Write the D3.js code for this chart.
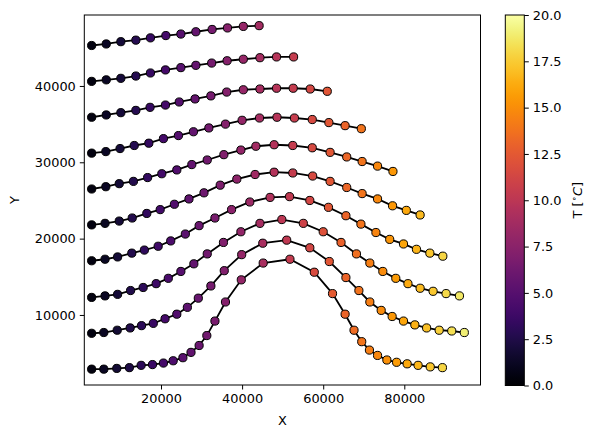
<!DOCTYPE html>
<html>
<head>
<meta charset="utf-8">
<script src="https://cdn.jsdelivr.net/npm/d3@7"></script>
<style>
  body { margin: 0; background: #fff; }
  text { font-family: "DejaVu Sans", sans-serif; font-size: 12.9px; fill: #000; }
</style>
</head>
<body>
<svg id="chart" width="596" height="438"></svg>
<script>
// trajectories, bottom (0) to top (9): x, y and temperature per point
var line0X = [2900, 5900, 9100, 12200, 15100, 17900, 20600, 23000, 25400, 27400, 29400, 31300, 33300, 35900, 39800, 45200, 51800, 57800, 62300, 65400, 67600, 69500, 71400, 73400, 75700, 78100, 80700, 83400, 86400, 89400];
var line0Y = [2900, 2900, 3000, 3100, 3400, 3500, 3700, 4000, 4400, 5100, 6000, 7300, 9200, 11700, 14600, 16800, 17300, 15600, 12800, 10100, 8000, 6500, 5400, 4700, 4100, 3800, 3600, 3400, 3200, 3100];
var line0T = [0.6, 1.2, 1.8, 2.4, 3.0, 3.6, 4.1, 4.6, 5.1, 5.5, 5.9, 6.3, 6.7, 7.2, 8.0, 9.0, 10.4, 11.6, 12.5, 13.1, 13.5, 13.9, 14.3, 14.7, 15.1, 15.6, 16.1, 16.7, 17.3, 17.9];

var line1X = [2900, 5900, 9200, 12400, 15200, 18100, 21000, 23900, 26500, 29200, 32300, 35600, 39900, 45100, 51000, 56700, 61500, 65600, 68800, 71500, 74300, 77000, 79800, 82600, 85500, 88600, 91700, 94800];
var line1Y = [7600, 7700, 8000, 8300, 8600, 8900, 9500, 10100, 11000, 12200, 13800, 15800, 17900, 19400, 19800, 18800, 17000, 14900, 13200, 11700, 10600, 9800, 9200, 8700, 8300, 8000, 7900, 7700];
var line1T = [0.6, 1.2, 1.8, 2.5, 3.0, 3.6, 4.2, 4.8, 5.3, 5.8, 6.5, 7.1, 8.0, 9.0, 10.2, 11.3, 12.3, 13.1, 13.8, 14.3, 14.9, 15.4, 16.0, 16.5, 17.1, 17.7, 18.3, 19.0];

var line2X = [2900, 6200, 9300, 12500, 15600, 18800, 21800, 24900, 28100, 31400, 35400, 39700, 44400, 49800, 55100, 60000, 64400, 68200, 71500, 74700, 77900, 80900, 83900, 87100, 90300, 93600];
var line2Y = [12300, 12500, 12700, 13200, 13600, 14100, 14800, 15700, 16700, 18000, 19500, 20900, 22000, 22500, 22000, 20900, 19500, 18000, 16800, 15700, 14800, 14100, 13500, 13100, 12800, 12500];
var line2T = [0.6, 1.2, 1.9, 2.5, 3.1, 3.8, 4.4, 5.0, 5.6, 6.3, 7.1, 7.9, 8.9, 10.0, 11.0, 12.0, 12.9, 13.6, 14.3, 14.9, 15.6, 16.2, 16.8, 17.4, 18.1, 18.7];

var line3X = [2900, 6200, 9300, 12800, 15900, 19300, 22400, 26000, 29400, 33300, 37400, 41900, 46900, 51700, 56700, 61300, 65600, 69300, 73000, 76400, 79800, 83000, 86300, 89500];
var line3Y = [17100, 17300, 17600, 18100, 18500, 19000, 19700, 20600, 21700, 22700, 23800, 24800, 25400, 25500, 25000, 24100, 23000, 21900, 20800, 19900, 19300, 18600, 18100, 17700];
var line3T = [0.6, 1.2, 1.9, 2.6, 3.2, 3.9, 4.5, 5.2, 5.9, 6.7, 7.5, 8.4, 9.4, 10.3, 11.3, 12.3, 13.1, 13.9, 14.6, 15.3, 16.0, 16.6, 17.3, 17.9];

var line4X = [2900, 6200, 9700, 12900, 16500, 19800, 23300, 26900, 30600, 34600, 38700, 43200, 47900, 52500, 57400, 61700, 65800, 69600, 73400, 77100, 80500, 83900];
var line4Y = [21800, 22000, 22300, 22700, 23300, 23800, 24500, 25200, 26000, 27000, 27800, 28400, 28700, 28600, 28200, 27500, 26700, 25900, 25200, 24300, 23700, 23100];
var line4T = [0.6, 1.2, 1.9, 2.6, 3.3, 4.0, 4.7, 5.4, 6.1, 6.9, 7.7, 8.6, 9.6, 10.5, 11.5, 12.3, 13.2, 13.9, 14.7, 15.4, 16.1, 16.8];

var line5X = [2900, 6400, 9700, 13200, 16700, 20200, 23900, 27600, 31400, 35500, 39700, 43400, 47900, 52500, 57300, 61700, 65800, 69600, 73400, 77200];
var line5Y = [26500, 26800, 27200, 27500, 28000, 28500, 29000, 29700, 30300, 31000, 31600, 32100, 32300, 32200, 31900, 31300, 30700, 30100, 29500, 28800];
var line5T = [0.6, 1.3, 1.9, 2.6, 3.3, 4.0, 4.8, 5.5, 6.3, 7.1, 7.9, 8.7, 9.6, 10.5, 11.5, 12.3, 13.2, 13.9, 14.7, 15.4];

var line6X = [2900, 6400, 9900, 13400, 17000, 20600, 24300, 28000, 31800, 35900, 40000, 44300, 48600, 52900, 57300, 61400, 65400, 69400];
var line6Y = [31200, 31400, 31800, 32200, 32500, 33100, 33500, 34000, 34500, 35000, 35500, 35800, 35900, 35800, 35600, 35200, 34800, 34400];
var line6T = [0.6, 1.3, 2.0, 2.7, 3.4, 4.1, 4.9, 5.6, 6.4, 7.2, 8.0, 8.9, 9.7, 10.6, 11.5, 12.3, 13.1, 13.9];

var line7X = [2900, 6500, 10100, 13800, 17300, 21100, 24500, 28400, 32300, 36200, 40300, 44400, 48500, 52600, 56800, 61000];
var line7Y = [35900, 36200, 36500, 36800, 37200, 37500, 37900, 38300, 38700, 39200, 39500, 39600, 39700, 39700, 39600, 39300];
var line7T = [0.6, 1.3, 2.0, 2.8, 3.5, 4.2, 4.9, 5.7, 6.5, 7.2, 8.1, 8.9, 9.7, 10.5, 11.4, 12.2];

var line8X = [2900, 6500, 10100, 13800, 17400, 21100, 24900, 28600, 32500, 36300, 40300, 44400, 48500, 52700];
var line8Y = [40600, 40800, 41000, 41300, 41700, 42100, 42400, 42700, 43000, 43300, 43500, 43700, 43800, 43800];
var line8T = [0.6, 1.3, 2.0, 2.8, 3.5, 4.2, 5.0, 5.7, 6.5, 7.3, 8.1, 8.9, 9.7, 10.5];

var line9X = [2900, 6500, 10100, 13800, 17400, 21200, 24900, 28600, 32600, 36400, 40300, 44200];
var line9Y = [45300, 45500, 45800, 46000, 46300, 46600, 46800, 47100, 47400, 47600, 47800, 47900];
var line9T = [0.6, 1.3, 2.0, 2.8, 3.5, 4.2, 5.0, 5.7, 6.5, 7.3, 8.1, 8.8];

var xTicks = [20000, 40000, 60000, 80000];
var yTicks = [10000, 20000, 30000, 40000];
var cbTicks = [0, 2.5, 5, 7.5, 10, 12.5, 15, 17.5, 20];

var allX = [line0X, line1X, line2X, line3X, line4X, line5X, line6X, line7X, line8X, line9X];
var allY = [line0Y, line1Y, line2Y, line3Y, line4Y, line5Y, line6Y, line7Y, line8Y, line9Y];
var allT = [line0T, line1T, line2T, line3T, line4T, line5T, line6T, line7T, line8T, line9T];

var tracks = allX.map(function (xs, i) {
  return xs.map(function (v, j) {
    return { x: v, y: allY[i][j], t: allT[i][j] };
  });
});

var svg = d3.select("#chart");

var x = d3.scaleLinear().domain([1085, 98790]).range([84.3, 480.5]);
var y = d3.scaleLinear().domain([825, 49295]).range([385, 15]);
var color = d3.scaleSequential(d3.interpolateInferno).domain([0, 20]);

var plot = svg.append("g").attr("class", "plot");

var line = d3
  .line()
  .x((d) => x(d.x))
  .y((d) => y(d.y));

tracks.forEach(function (tr) {
  plot
    .append("path")
    .datum(tr)
    .attr("d", line)
    .attr("fill", "none")
    .attr("stroke", "#000")
    .attr("stroke-width", 1.8);

  plot
    .selectAll(null)
    .data(tr)
    .enter()
    .append("circle")
    .attr("cx", (d) => x(d.x))
    .attr("cy", (d) => y(d.y))
    .attr("r", 4.1)
    .attr("fill", (d) => color(d.t))
    .attr("stroke", "#000")
    .attr("stroke-width", 1);
});

// axes
var xAxis = svg
  .append("g")
  .attr("transform", "translate(0,385)")
  .call(d3.axisBottom(x).tickValues(xTicks).tickSize(4.5).tickPadding(4).tickFormat(d3.format("d")));
var yAxis = svg
  .append("g")
  .attr("transform", "translate(84.3,0)")
  .call(d3.axisLeft(y).tickValues(yTicks).tickSize(4.5).tickPadding(4).tickFormat(d3.format("d")));

[xAxis, yAxis].forEach(function (g) {
  g.select(".domain").remove();
  g.selectAll("line").attr("stroke", "#000").attr("stroke-width", 1);
  g.selectAll("text").attr("font-size", null).attr("font-family", null).attr("fill", "#000");
});

svg
  .append("rect")
  .attr("x", 84.3)
  .attr("y", 15)
  .attr("width", 480.5 - 84.3)
  .attr("height", 370)
  .attr("fill", "none")
  .attr("stroke", "#000")
  .attr("stroke-width", 1);

svg.append("text").attr("x", 282.4).attr("y", 425).attr("text-anchor", "middle").text("X");
svg
  .append("text")
  .attr("transform", "translate(19,200) rotate(-90)")
  .attr("text-anchor", "middle")
  .text("Y");

// colorbar
var cb = { x: 505.3, y: 15, w: 19, h: 370.5 };
var cbScale = d3.scaleLinear().domain([0, 20]).range([cb.y + cb.h, cb.y]);

var grad = svg
  .append("defs")
  .append("linearGradient")
  .attr("id", "cbgrad")
  .attr("x1", 0)
  .attr("y1", 1)
  .attr("x2", 0)
  .attr("y2", 0);
grad
  .selectAll("stop")
  .data(d3.range(0, 1.0001, 0.02))
  .enter()
  .append("stop")
  .attr("offset", (d) => d)
  .attr("stop-color", (d) => d3.interpolateInferno(d));

svg
  .append("rect")
  .attr("x", cb.x)
  .attr("y", cb.y)
  .attr("width", cb.w)
  .attr("height", cb.h)
  .attr("fill", "url(#cbgrad)")
  .attr("stroke", "#000")
  .attr("stroke-width", 1);

var cbAxis = svg
  .append("g")
  .attr("transform", "translate(" + (cb.x + cb.w) + ",0)")
  .call(d3.axisRight(cbScale).tickValues(cbTicks).tickSize(4.5).tickPadding(4).tickFormat(d3.format(".1f")));
cbAxis.select(".domain").remove();
cbAxis.selectAll("line").attr("stroke", "#000").attr("stroke-width", 1);
cbAxis.selectAll("text").attr("font-size", null).attr("font-family", null).attr("fill", "#000");

var cbLabel = svg
  .append("text")
  .attr("transform", "translate(582," + (cb.y + cb.h / 2) + ") rotate(-90)")
  .attr("text-anchor", "middle");
cbLabel.append("tspan").text("T [");
cbLabel.append("tspan").attr("dy", -5).attr("font-size", "9px").text("∘");
cbLabel.append("tspan").attr("dy", 5).attr("font-style", "italic").text("C");
cbLabel.append("tspan").text("]");
</script>
</body>
</html>
